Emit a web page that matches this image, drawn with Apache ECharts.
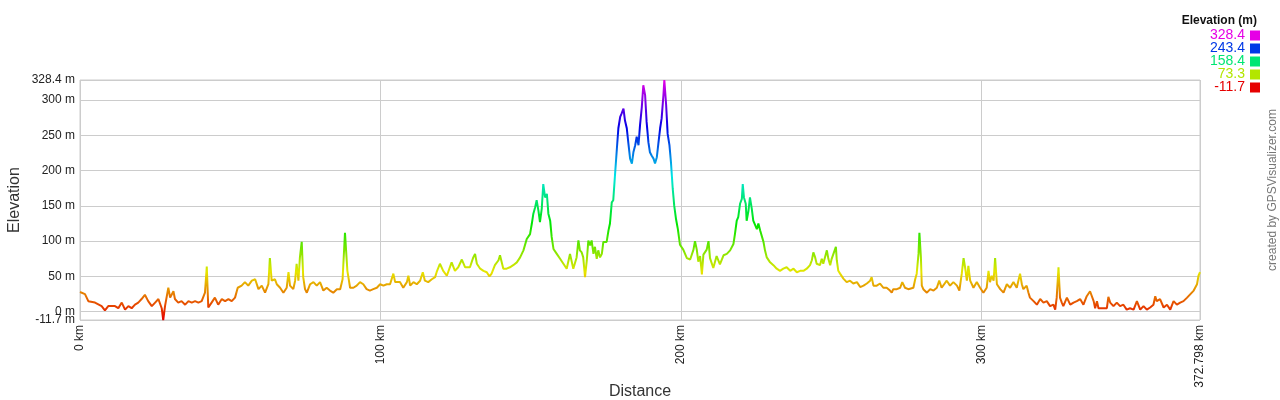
<!DOCTYPE html>
<html><head><meta charset="utf-8">
<script src="https://cdn.jsdelivr.net/npm/echarts@6/dist/echarts.min.js"></script>
<style>html,body{margin:0;padding:0;background:#fff}#c{width:1280px;height:400px}</style>
</head><body><div id="c"></div>
<script>
// [distance km, elevation m]
const elevationProfile = [
[0,28],[1.66,25],[2.77,15],[5.0,13],[7.2,8],[8.3,2],[9.4,8],[11.65,8],[12.75,5],[13.9,13],[15.0,3],[16.1,8],[17.2,5],[18.3,10],[19.4,13],[20.5,18],[21.6,24],[22.7,15],[23.9,8],[25.0,13],[26.1,18],[27.2,5],[27.7,-11.7],[28.3,8],[29.4,34],[30.0,20],[31.1,29],[31.6,18],[32.7,13],[33.8,15],[35.0,10],[36.1,15],[37.2,13],[38.3,15],[39.4,13],[40.5,15],[41.6,27],[42.2,64],[42.7,6],[43.8,13],[44.9,20],[46.0,10],[47.2,18],[48.3,15],[49.4,18],[50.5,15],[51.6,20],[52.5,34],[53.8,37],[54.9,42],[56.0,37],[57.2,44],[58.3,46],[59.4,32],[60.5,37],[61.6,27],[62.7,39],[63.2,76],[63.8,44],[64.9,46],
[65.5,39],[66.6,34],[67.7,27],[68.8,34],[69.4,56],[69.9,37],[71.0,32],[71.6,44],[72.1,68],[72.7,44],[73.2,77],[73.8,99],[74.3,49],[74.9,32],[75.5,27],[76.6,39],[77.7,42],[78.8,37],[79.9,42],[81.0,30],[82.1,34],[83.2,30],[84.3,27],[85.5,32],[86.6,32],[87.4,46],[88.2,112],[89.0,58],[89.9,34],[91.0,34],[92.1,37],[93.2,42],[94.3,39],[95.4,32],[96.5,30],[97.6,32],[98.8,34],[99.9,39],[101.0,37],[102.1,39],[103.2,39],[104.3,54],[104.9,42],[106.5,42],[107.6,34],[108.8,42],[109.3,51],[109.9,37],[111.0,42],[112.1,39],[113.2,44],[114.1,56],[114.8,44],[115.9,42],[117.1,46],[118.2,49],[118.7,56],[119.8,68],[120.9,58],[122.1,51],[123.7,70],[124.8,58],[125.9,63],[127.1,74],[128.2,63],[129.8,63],
[130.9,77],[131.5,82],[132.1,68],[133.2,61],[134.3,58],[135.4,56],[136.3,50],[137.0,54],[138.1,66],[139.3,73],[139.8,80],[140.9,61],[142.0,61],[143.1,63],[144.2,66],[145.4,70],[146.5,77],[147.6,87],[148.7,103],[149.8,110],[150.4,125],[150.9,139],[151.5,148],[152.0,158],[152.6,143],[153.1,127],[153.7,146],[154.2,181],[154.8,162],[155.4,167],[155.9,139],[156.5,129],[157.0,106],[157.6,89],[158.7,82],[159.8,75],[160.9,68],[162.0,61],[163.1,82],[164.2,61],[165.3,77],[165.9,101],[166.4,87],[167.0,84],[167.5,77],[168.1,49],[168.7,73],[169.2,101],[169.8,94],[170.3,101],[170.9,82],[171.4,92],[172.0,75],[172.5,87],[173.1,77],[173.7,82],[174.2,99],[175.3,99],[175.9,115],[176.4,125],[177.0,155],[177.5,158],[178.1,195],
[178.7,231],[179.2,260],[179.8,276],[180.3,281],[180.9,288],[181.4,271],[182.0,260],[182.5,240],[183.1,217],[183.7,210],[184.2,226],[184.8,236],[185.3,248],[185.9,236],[186.4,264],[187.0,290],[187.5,321],[188.1,307],[188.6,269],[189.2,240],[189.7,226],[190.3,221],[190.9,217],[191.4,210],[192.0,219],[192.5,238],[193.1,260],[193.6,274],[194.2,307],[194.5,328.4],[195.1,293],[195.6,252],[196.2,236],[196.7,212],[197.3,174],[197.8,150],[198.4,131],[199.0,117],[199.7,95],[200.8,88],[202.0,76],[203.1,74],[204.2,88],[204.7,100],[205.3,88],[205.8,71],[206.4,79],[207.0,53],[207.5,81],[208.6,88],[209.2,100],[209.7,76],[210.8,62],[211.9,79],[213.0,67],
[214.2,80],[215.3,82],[216.4,87],[217.5,96],[218.0,110],[218.6,129],[219.1,134],[219.7,153],[220.3,160],[220.6,181],[221.0,162],[221.6,153],[221.9,129],[222.5,143],[223.0,162],[223.6,146],[224.1,129],[224.7,127],[225.3,117],[225.8,125],[226.4,115],[226.9,117],[227.5,99],[228.0,87],[228.6,77],[229.7,70],[230.8,66],[231.9,61],[233.0,58],[234.1,61],[235.2,63],[236.4,58],[237.5,61],[238.6,56],[239.7,58],[240.8,58],[241.9,61],[243.0,66],[243.6,73],[244.1,84],[244.7,77],[245.2,68],[246.3,66],[246.9,75],[247.4,68],[248.6,87],[249.1,75],[249.7,66],[250.2,75],[250.8,77],[251.6,92],[251.9,73],[252.4,58],[253.0,54],[254.1,47],[255.2,42],[256.3,44],[257.4,40],[258.6,42],[259.7,35],[260.8,37],[261.9,40],[263.0,44],[263.5,49],[264.1,37],[265.2,37],[266.3,40],
[267.4,34],[268.5,34],[269.6,30],[270.2,27],[270.7,32],[271.9,32],[273.0,34],[273.7,42],[274.6,34],[275.7,32],[276.3,30],[277.4,34],[278.0,46],[278.5,54],[279.1,82],[279.4,112],[279.9,77],[280.2,37],[280.7,32],[281.9,27],[283.0,32],[284.1,30],[285.2,34],[286.0,44],[286.8,34],[287.4,32],[288.5,44],[289.6,37],[290.7,42],[291.9,37],[292.7,30],[293.5,54],[294.1,76],[294.6,63],[295.2,44],[295.7,65],[296.3,44],[297.4,34],[298.5,42],[299.6,34],[300.7,27],[301.8,34],[302.4,58],[302.9,42],[303.5,51],[304.1,44],[304.6,76],[305.2,39],[306.3,32],[307.4,27],[308.5,39],[309.6,34],[310.7,42],[311.8,34],[312.9,54],[313.5,39],[314.0,32],[315.1,37],[315.7,27],[316.2,20],[317.4,15],[318.5,10],[319.6,18],
[320.7,13],[321.8,15],[322.9,8],[324.0,10],[324.6,3],[325.1,20],[325.7,63],[326.2,20],[326.8,13],[327.3,8],[328.5,20],[329.6,10],[330.7,13],[331.8,15],[332.9,18],[334.0,10],[335.1,22],[336.2,29],[337.4,15],[337.9,5],[338.5,15],[339.0,5],[340.6,5],[341.8,5],[342.3,21],[342.9,13],[344.0,8],[345.1,13],[346.2,8],[347.3,10],[348.4,3],[349.5,5],[350.7,3],[351.8,15],[352.9,3],[354.0,8],[355.1,3],[356.2,6],[357.3,10],[357.9,22],[358.4,15],[359.5,18],[360.7,6],[361.8,10],[362.9,3],[364.0,15],[365.1,10],[366.2,13],[367.3,15],[368.5,20],[369.6,25],[370.7,30],[371.8,39],[372.3,51],[372.798,56]
];
const yTickValues = [-11.7, 50, 100, 150, 200, 250, 300, 328.4];
const yZeroTick = [0];
const xTickValues = [0, 100, 200, 300, 372.798];
const legendValues = [328.4, 243.4, 158.4, 73.3, -11.7];
const legendColors = ['#e600e6', '#0038e6', '#00e673', '#b3e600', '#e60000'];

function hsvHex(h, s, v) {
  const c = v * s, hp = h / 60, x = c * (1 - Math.abs(hp % 2 - 1));
  let r = 0, g = 0, b = 0;
  if (hp < 1) { r = c; g = x; } else if (hp < 2) { r = x; g = c; } else if (hp < 3) { g = c; b = x; }
  else if (hp < 4) { g = x; b = c; } else if (hp < 5) { r = x; b = c; } else { r = c; b = x; }
  const m = v - c;
  const to = t => Math.round((t + m) * 255).toString(16).padStart(2, '0');
  return '#' + to(r) + to(g) + to(b);
}
const colorStops = [];
for (let i = 0; i <= 30; i++) colorStops.push(hsvHex(i * 10, 1, 0.9));

const FONT = 'Arial, "Liberation Sans", sans-serif';
const chart = echarts.init(document.getElementById('c'));

const graphics = [{
  type: 'text', x: 1257, y: 21,
  style: { text: 'Elevation (m)', font: 'bold 12px ' + FONT, fill: '#111', align: 'right', verticalAlign: 'middle' }
}];
legendValues.forEach((v, i) => {
  const yc = 35.5 + i * 13;
  graphics.push({ type: 'text', x: 1245, y: yc,
    style: { text: String(v), font: '14px ' + FONT, fill: legendColors[i], align: 'right', verticalAlign: 'middle' } });
  graphics.push({ type: 'rect', shape: { x: 1250, y: yc - 5, width: 10, height: 10 },
    style: { fill: legendColors[i] } });
});
graphics.push({ type: 'text', x: 1273, y: 190, rotation: Math.PI / 2,
  style: { text: 'created by GPSVisualizer.com', font: '12px ' + FONT, fill: '#777', align: 'center', verticalAlign: 'middle' } });

const yBase = {
  type: 'value', min: -11.7, max: 328.4, position: 'left',
  axisLine: { show: false },
  splitLine: { show: true, lineStyle: { color: '#cccccc', width: 1 } }
};

chart.setOption({
  animation: false,
  textStyle: { fontFamily: FONT },
  grid: { left: 80, right: 80, top: 80, bottom: 80, show: true, borderColor: '#cccccc', borderWidth: 1,
    containLabel: false, outerBoundsMode: 'none' },
  xAxis: {
    type: 'value', min: 0, max: 372.798,
    name: 'Distance', nameLocation: 'middle', nameGap: 64, nameMoveOverlap: false,
    nameTextStyle: { fontSize: 16, color: '#333', fontFamily: FONT },
    axisLine: { show: false },
    axisTick: { show: false, customValues: xTickValues },
    axisLabel: { customValues: xTickValues, rotate: 90, margin: 5, color: '#222', fontSize: 12, hideOverlap: false,
      formatter: v => v + ' km' },
    splitLine: { show: true, lineStyle: { color: '#cccccc', width: 1 } }
  },
  yAxis: [
    Object.assign({}, yBase, {
      name: 'Elevation', nameLocation: 'middle', nameGap: 57, nameMoveOverlap: false,
      nameTextStyle: { fontSize: 16, color: '#333', fontFamily: FONT },
      axisTick: { show: false, customValues: yTickValues },
      axisLabel: { customValues: yTickValues, margin: 5, color: '#222', fontSize: 12, hideOverlap: false,
        showMinLabel: true, showMaxLabel: true, formatter: v => v + ' m' }
    }),
    Object.assign({}, yBase, {
      axisTick: { show: false, customValues: yZeroTick },
      axisLabel: { customValues: yZeroTick, margin: 5, color: '#222', fontSize: 12, hideOverlap: false,
        padding: [0, 0, 8, 0], formatter: v => v + ' m' }
    })
  ],
  visualMap: {
    show: false, type: 'continuous', dimension: 1, seriesIndex: 0,
    min: -11.7, max: 328.4, inRange: { color: colorStops }
  },
  graphic: graphics,
  series: [{
    type: 'line', data: elevationProfile, showSymbol: false, symbol: 'none',
    sampling: null, lineStyle: { width: 2 }
  }]
});
</script>
</body></html>
